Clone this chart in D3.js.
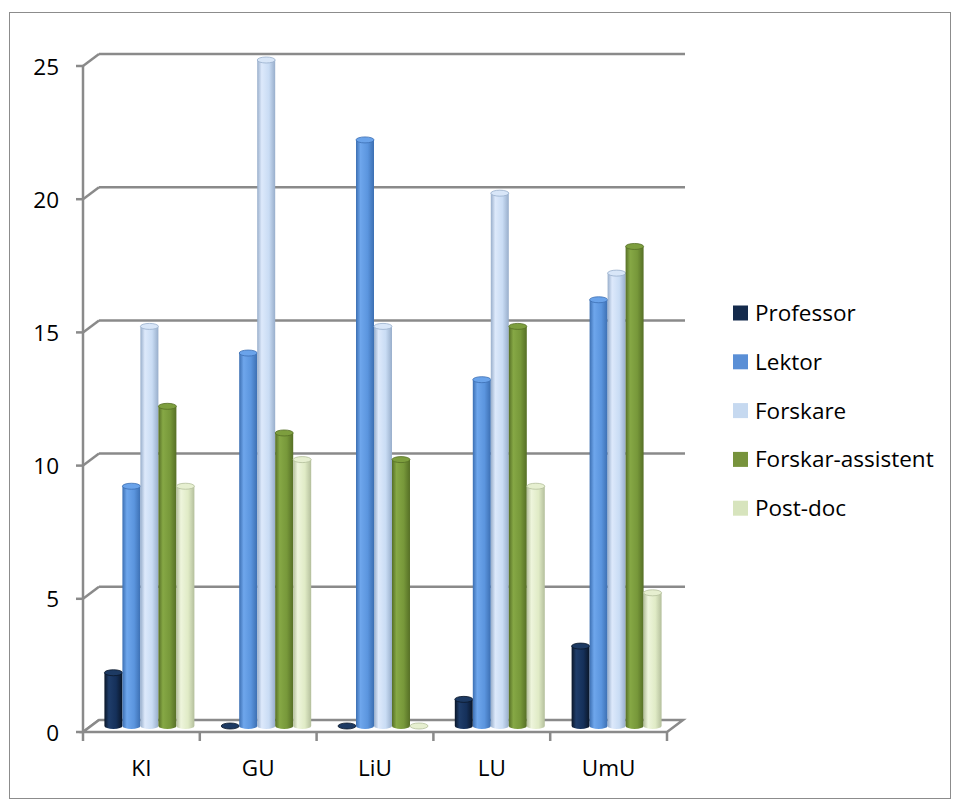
<!DOCTYPE html>
<html><head><meta charset="utf-8">
<script src="https://cdn.jsdelivr.net/npm/d3@7"></script>
<style>body{margin:0;background:#fff}svg{display:block}text{font-family:"Open Sans",sans-serif;fill:#000}</style>
</head><body>
<script>
const categories = ["KI","GU","LiU","LU","UmU"];
const seriesNames = ["Professor","Lektor","Forskare","Forskar-assistent","Post-doc"];
const professor = [2,0,0,1,3];
const lektor = [9,14,22,13,16];
const forskare = [15,25,15,20,17];
const forskarAssistent = [12,11,10,15,18];
const postDoc = [9,10,0,9,5];
const yTicks = [0,5,10,15,20,25];
const values = [professor,lektor,forskare,forskarAssistent,postDoc];

const legendColors = ["#142a4c","#5a8fd6","#c6d9f0","#77933c","#d7e4bd"];
const shades = [
  {dark:"#0a1628",base:"#15305a",light:"#1f3d6a",top:"#1d3a63"},
  {dark:"#3c6fb2",base:"#5b95de",light:"#6ea6ec",top:"#6aa3ea"},
  {dark:"#98aecb",base:"#c9dcf4",light:"#dde9fb",top:"#d8e6f8"},
  {dark:"#566f26",base:"#77983a",light:"#86a845",top:"#7d9e3e"},
  {dark:"#b4bf9c",base:"#e0ebc6",light:"#eef5dc",top:"#e6efd0"}
];

const W=953,H=800;
const svg=d3.select("body").append("svg").attr("width",W).attr("height",H);
const defs=svg.append("defs");
shades.forEach((s,i)=>{
  const g=defs.append("linearGradient").attr("id","g"+i).attr("x1","0").attr("x2","1").attr("y1","0").attr("y2","0");
  g.append("stop").attr("offset","0%").attr("stop-color",s.dark);
  g.append("stop").attr("offset","25%").attr("stop-color",s.light);
  g.append("stop").attr("offset","65%").attr("stop-color",s.base);
  g.append("stop").attr("offset","100%").attr("stop-color",s.dark);
});

// outer border
svg.append("rect").attr("x",9.5).attr("y",12.5).attr("width",941).attr("height",786)
  .attr("fill","none").attr("stroke","#8c8c8c").attr("stroke-width",1);

const x0=83,x1=667,dx=16,dy=-12;
const y=d3.scaleLinear().domain([0,25]).range([732,66]);
const xb=d3.scaleBand().domain(categories).range([x0,x1]).paddingInner(0).paddingOuter(0);
const xs=d3.scaleBand().domain(seriesNames).range([0,xb.bandwidth()]).paddingInner(0).paddingOuter(0.745);
const gridColor="#8a8a8a";

// back gridlines & side diagonals
const grid=svg.append("g").attr("stroke",gridColor).attr("stroke-width",2.5).attr("fill","none");
yTicks.forEach(t=>{
  if(t>0) grid.append("line").attr("x1",x0+dx).attr("x2",x1+dx+2).attr("y1",y(t)+dy).attr("y2",y(t)+dy);
  grid.append("line").attr("x1",x0).attr("y1",y(t)).attr("x2",x0+dx).attr("y2",y(t)+dy);
  grid.append("line").attr("x1",x0-7).attr("x2",x0).attr("y1",y(t)).attr("y2",y(t));
});
// floor
grid.append("path").attr("fill","#fff").attr("stroke-linejoin","miter")
  .attr("d",`M${x0},${y(0)}L${x1},${y(0)}L${x1+dx},${y(0)+dy}L${x0+dx},${y(0)+dy}Z`);
// left axis line
grid.append("line").attr("x1",x0).attr("x2",x0).attr("y1",y(25)).attr("y2",y(0)+1);
// category ticks
d3.range(categories.length+1).forEach(i=>{
  const xx=x0+i*xb.bandwidth();
  grid.append("line").attr("x1",xx).attr("x2",xx).attr("y1",y(0)).attr("y2",y(0)+9);
});

const fs=22.5;
// y labels
svg.append("g").selectAll("text").data(yTicks).join("text")
  .attr("x",59).attr("y",d=>y(d)+8.5).attr("text-anchor","end").attr("font-size",fs).text(d=>d);
// category labels
svg.append("g").selectAll("text").data(categories).join("text")
  .attr("x",d=>xb(d)+xb.bandwidth()/2).attr("y",776).attr("text-anchor","middle").attr("font-size",fs).text(d=>d);

// bars (mid depth)
const mdx=dx/2, mdy=dy/2, ry=3;
const bars=svg.append("g");
categories.forEach((c,ci)=>{
  seriesNames.forEach((s,si)=>{
    const v=values[si][ci];
    const bw=xs.bandwidth();
    const bx=xb(c)+xs(s)+mdx;
    const rx=bw/2;
    const yb=y(0)+mdy, yt=y(v)+mdy;
    if(v>0){
      bars.append("path").attr("fill",`url(#g${si})`)
        .attr("d",`M${bx},${yt}L${bx},${yb}A${rx},${ry} 0 0 0 ${bx+bw},${yb}L${bx+bw},${yt}Z`);
    }
    bars.append("ellipse").attr("cx",bx+rx).attr("cy",yt).attr("rx",rx).attr("ry",ry)
      .attr("fill",shades[si].top).attr("stroke",shades[si].dark).attr("stroke-width",0.8);
  });
});

// legend
const lg=svg.append("g");
seriesNames.forEach((s,i)=>{
  const ly=313+i*48.8;
  lg.append("rect").attr("x",733).attr("y",ly-7.5).attr("width",15).attr("height",15).attr("fill",legendColors[i]);
  lg.append("text").attr("x",755).attr("y",ly+8).attr("font-size",fs).text(s);
});
</script>
</body></html>
